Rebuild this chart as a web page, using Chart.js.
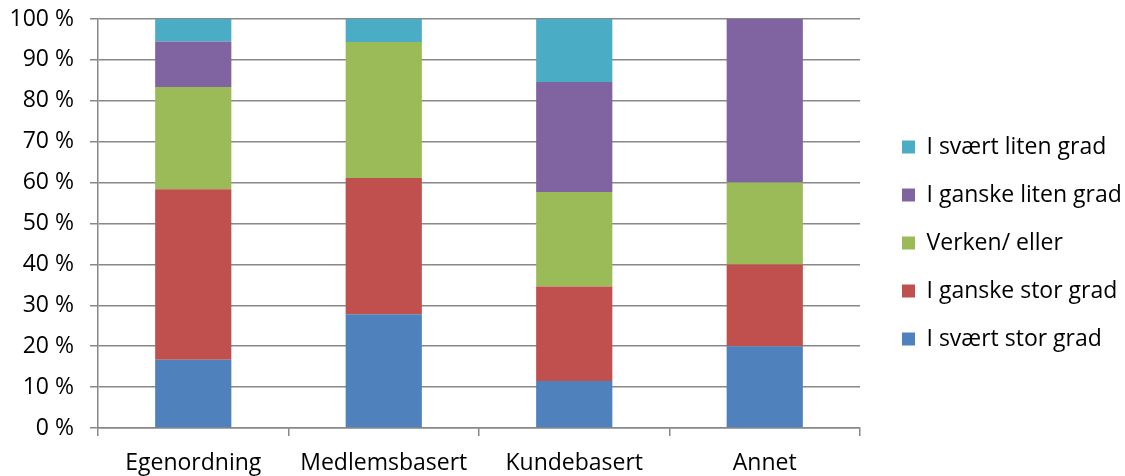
<!DOCTYPE html>
<html lang="no">
<head>
  <meta charset="UTF-8" />
  <title>Fordeling</title>
  <script src="https://cdn.jsdelivr.net/npm/chart.js"></script>
  <style>
    html, body { margin: 0; padding: 0; background: #fff; }
    #wrap { width: 1125px; height: 476px; }
  </style>
</head>
<body>
  <div id="wrap"><canvas id="chart" width="1125" height="476"></canvas></div>

  <script>
    const categories = ['Egenordning', 'Medlemsbasert', 'Kundebasert', 'Annet'];
    const tickLabels = ['0 %', '10 %', '20 %', '30 %', '40 %', '50 %', '60 %', '70 %', '80 %', '90 %', '100 %'];

    // andeler i prosent, lest av figuren
    const svaertStor = [16.7, 27.8, 11.5, 20];
    const ganskeStor = [41.7, 33.3, 23.1, 20];
    const verkenEller = [25.0, 33.3, 23.1, 20];
    const ganskeLiten = [11.1, 0, 26.9, 40];
    const svaertLiten = [5.5, 5.6, 15.4, 0];

    const series = [
      { label: 'I svært stor grad', data: svaertStor, color: '#4F81BD' },
      { label: 'I ganske stor grad', data: ganskeStor, color: '#C0504D' },
      { label: 'Verken/ eller', data: verkenEller, color: '#9BBB59' },
      { label: 'I ganske liten grad', data: ganskeLiten, color: '#8064A2' },
      { label: 'I svært liten grad', data: svaertLiten, color: '#4BACC6' }
    ];

    const font = { family: '"Open Sans", sans-serif', size: 23 };
    const axisColor = '#888888';

    // fast bredde på forklaringen så plottet slutter der originalen gjør
    const legendWidth = {
      id: 'legendWidth',
      beforeInit(chart) {
        const lg = chart.legend;
        if (!lg) return;
        const fit = lg.fit;
        lg.fit = function () {
          fit.call(this);
          this.width = 265;
        };
      },
      afterLayout(chart) {
        if (!chart.legend) return;
        chart.legend.left += 17;
        chart.legend.top += 5;
        chart.legend.bottom += 5;
      }
    };

    new Chart(document.getElementById('chart'), {
      type: 'bar',
      data: {
        labels: categories,
        datasets: series.map(s => ({
          label: s.label,
          data: s.data,
          backgroundColor: s.color,
          borderWidth: 0,
          categoryPercentage: 1,
          barPercentage: 0.4
        }))
      },
      options: {
        responsive: false,
        animation: false,
        layout: { padding: 0 },
        plugins: {
          tooltip: { enabled: false },
          legend: {
            position: 'right',
            reverse: true,
            labels: {
              color: '#000',
              font: font,
              boxWidth: 13,
              boxHeight: 13,
              padding: 25
            }
          }
        },
        scales: {
          x: {
            stacked: true,
            grid: {
              drawOnChartArea: false,
              drawTicks: true,
              tickLength: 8,
              color: axisColor,
              lineWidth: 1.5
            },
            border: { color: axisColor, width: 1.5 },
            ticks: { color: '#000', font: font, padding: 14, maxRotation: 0 },
            afterFit(scale) { scale.height = 48; }
          },
          y: {
            stacked: true,
            min: 0,
            max: 100,
            grid: {
              color: axisColor,
              lineWidth: 1.5,
              tickLength: 8
            },
            border: { color: axisColor, width: 1.5 },
            ticks: {
              stepSize: 10,
              color: '#000',
              font: font,
              padding: 16,
              callback: (v) => tickLabels[Math.round(v / 10)]
            },
            afterFit(scale) {
              scale.width = 98;
              scale.paddingTop = 19;
              scale.paddingBottom = 0;
            }
          }
        }
      },
      plugins: [legendWidth]
    });
  </script>
</body>
</html>
